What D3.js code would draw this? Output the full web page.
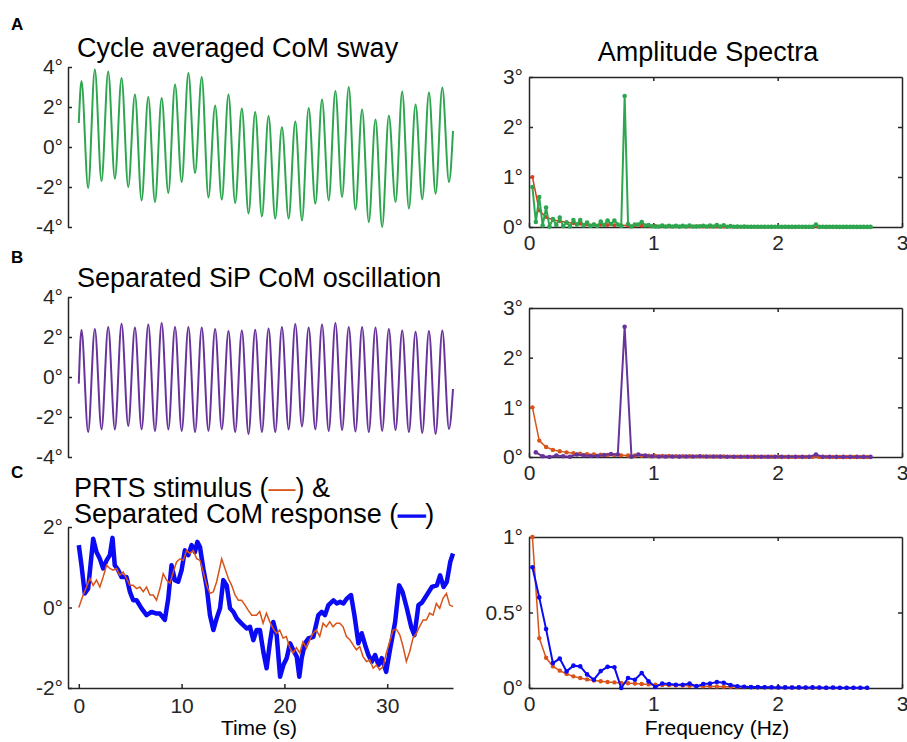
<!DOCTYPE html>
<html lang="en">
<head>
<meta charset="UTF-8">
<script src="https://d3js.org/d3.v7.min.js"></script>
<title>CoM sway and amplitude spectra</title>
<style>
    body { margin: 0; background: #fff; }
    svg text { font-family: "Liberation Sans", Arial, sans-serif; }
</style>
</head>
<body>
<script>

// ---- data ----

// one stimulus cycle (s); spectra points sit on harmonics k / period
var period = 36.4;

// A: cycle averaged CoM sway, value at start, successive peaks / troughs, value at end (deg)
var swayStart = 1.2, swayEnd = 0.8;
var swayPeaks = [3.3, 3.87, 3.78, 3.45, 2.63, 2.5, 2.45, 3.13, 3.7, 3.5, 2.08, 2.63, 1.92, 1.75,
                 1.55, 1.0, 1.28, 1.95, 2.37, 2.8, 3.0, 1.88, 1.37, 1.58, 2.78, 2.13, 2.72, 2.97];
var swayTroughs = [-2.05, -1.7, -1.58, -2.0, -2.67, -2.75, -2.3, -1.75, -1.3, -2.53, -2.63, -2.8, -3.33, -3.47,
                   -3.58, -3.58, -3.67, -2.83, -2.67, -2.5, -3.13, -3.75, -4.0, -2.75, -3.08, -2.62, -2.33, -1.75];
// time of first peak and half cycle of the 0.77 Hz oscillation (s)
var firstPeak = 0.26, halfCycle = 0.65;

// B: separated SiP CoM oscillation
var sipStart = -0.33, sipEnd = -0.6;
var sipPeaks = [2.35, 2.4, 2.5, 2.66, 2.47, 2.62, 2.7, 2.5, 2.5, 2.48, 2.4, 2.3, 2.32, 2.36,
                2.42, 2.5, 2.65, 2.47, 2.62, 2.7, 2.5, 2.5, 2.48, 2.4, 2.33, 2.26, 2.3, 2.33];
var sipTroughs = [-2.75, -2.62, -2.62, -2.45, -2.62, -2.7, -2.62, -2.7, -2.75, -2.7, -2.62, -2.75, -2.85, -2.75,
                  -2.75, -2.62, -2.47, -2.62, -2.7, -2.65, -2.72, -2.75, -2.7, -2.65, -2.75, -2.8, -2.85, -2.6];

// C: PRTS stimulus and separated CoM response, [time (s), deg]
var stimulus = [[0,0],[0.42,0.31],[0.75,0.51],[1.07,0.72],[1.4,0.55],[1.72,0.68],[2.05,0.51],[2.37,0.76],
    [2.7,1.05],[3.02,0.97],[3.34,0.93],[3.67,0.97],[3.99,0.8],[4.32,0.88],[4.64,0.72],[4.97,0.55],[5.29,0.55],
    [5.62,0.47],[5.94,0.51],[6.27,0.39],[6.59,0.51],[6.92,0.31],[7.24,0.31],[7.56,0.18],[7.89,0.47],[8.21,0.84],
    [8.54,0.68],[8.86,0.6],[9.19,0.88],[9.51,1.13],[9.84,1.21],[10.16,1.17],[10.49,1.42],[10.81,1.34],[11.14,1.42],
    [11.46,1.21],[11.79,1.17],[12.11,0.88],[12.44,0.55],[12.76,0.35],[13.09,0.39],[13.41,0.64],[13.9,1.21],
    [14.22,0.97],[14.55,0.72],[14.87,0.55],[15.2,0.31],[15.52,0.18],[15.84,0.18],[16.17,0.06],[16.49,-0.07],
    [16.82,-0.19],[17.28,-0.19],[17.6,-0.1],[17.93,-0.39],[18.25,-0.14],[18.57,-0.35],[18.9,-0.52],[19.22,-0.64],
    [19.54,-0.56],[19.87,-0.76],[20.19,-0.72],[20.52,-1.0],[20.84,-1.13],[21.17,-1.0],[21.49,-1.13],[21.81,-0.85],
    [22.14,-1.01],[22.46,-0.81],[22.79,-0.64],[23.11,-0.56],[23.44,-0.72],[23.76,-0.39],[24.08,-0.48],[24.41,-0.35],
    [24.73,-0.48],[25.06,-0.39],[25.38,-0.39],[25.71,-0.48],[26.03,-0.72],[26.36,-0.8],[26.68,-0.93],[27.0,-1.05],
    [27.33,-0.97],[27.65,-1.22],[27.98,-1.34],[28.3,-1.3],[28.63,-1.51],[28.95,-1.43],[29.27,-1.55],[29.6,-1.47],
    [29.92,-1.13],[30.24,-0.85],[30.57,-0.56],[30.89,-0.54],[31.22,-0.68],[31.54,-0.97],[31.86,-1.34],[32.19,-1.1],
    [32.51,-0.76],[32.84,-0.64],[33.16,-0.47],[33.49,-0.31],[33.81,-0.31],[34.13,-0.14],[34.46,-0.19],[34.78,0.1],
    [35.11,-0.02],[35.43,0.23],[35.76,0.35],[36.08,0.06],[36.4,0.02]];

var response = [[0,1.55],[0.26,1.05],[0.58,0.35],[0.91,0.47],[1.4,1.71],[1.72,1.38],[2.05,1.21],[2.37,0.97],
    [2.7,1.17],[3.02,1.3],[3.28,1.73],[3.5,1.05],[3.83,0.93],[4.15,0.76],[4.64,0.76],[4.97,0.39],[5.29,0.18],
    [5.62,0.18],[6.1,-0.02],[6.59,-0.19],[7.08,-0.11],[7.56,-0.15],[7.89,-0.15],[8.37,-0.31],[8.7,0.22],[9.02,1.05],
    [9.35,0.68],[9.67,0.64],[10.0,0.93],[10.32,1.42],[10.65,1.3],[10.97,1.55],[11.3,1.38],[11.53,1.63],[11.79,1.5],
    [12.11,0.97],[12.44,0.51],[12.76,-0.19],[13.09,-0.56],[13.41,-0.27],[13.74,-0.02],[14.06,0.68],[14.39,0.55],
    [14.71,-0.02],[15.04,-0.11],[15.36,-0.27],[15.84,-0.4],[16.33,-0.52],[16.65,-0.48],[16.98,-0.81],[17.3,-0.56],
    [17.62,-0.56],[17.95,-1.1],[18.27,-1.51],[18.6,-0.85],[18.92,-0.36],[19.25,-0.69],[19.58,-1.72],[19.9,-1.43],
    [20.22,-1.26],[20.55,-0.89],[20.87,-1.06],[21.2,-1.22],[21.45,-1.72],[21.68,-1.26],[22.0,-0.89],[22.33,-0.77],
    [22.81,-0.73],[23.3,-0.19],[23.63,-0.11],[23.95,-0.19],[24.28,0.06],[24.77,0.18],[25.09,0.1],[25.41,0.14],
    [25.74,0.1],[26.06,0.22],[26.48,0.31],[26.81,-0.19],[27.2,-0.89],[27.52,-0.64],[27.85,-0.93],[28.17,-1.18],
    [28.5,-1.35],[28.82,-1.18],[29.15,-1.43],[29.47,-1.26],[29.9,-1.6],[30.29,-1.02],[30.77,-0.36],[31.16,0.55],
    [31.49,0.39],[31.91,-0.02],[32.33,-0.48],[32.65,-0.69],[33.04,0.06],[33.37,0.12],[33.85,0.31],[34.34,0.51],
    [34.83,0.55],[35.15,0.8],[35.48,0.51],[35.8,0.64],[36.13,1.13],[36.4,1.34]];

// amplitude spectra (deg): all harmonics k = 1..100 for the sway,
// odd harmonics for stimulus and response, even harmonics for the SiP part
var swaySpec = [0.80, 0.10, 0.60, 0.03, 0.39, 0.01, 0.16, 0.04, 0.19, 0.02, 0.09, 0.01, 0.14, 0.05, 0.14, 0.03,
    0.09, 0.02, 0.05, 0.02, 0.11, 0.04, 0.13, 0.06, 0.13, 0.05, 0.02, 2.62, 0.06, 0.01, 0.05, 0.05, 0.10, 0.03,
    0.04, 0.015, 0.01, 0.01, 0.03, 0.01, 0.026, 0.01, 0.022, 0.008, 0.022, 0.01, 0.029, 0.01, 0.011, 0.015,
    0.026, 0.01, 0.029, 0.01, 0.04, 0.008, 0.035, 0.006, 0.02, 0.005, 0.011, 0.005, 0.008, 0.005, 0.006, 0.004,
    0.006, 0.004, 0.005, 0.004, 0.005, 0.004, 0.004, 0.003, 0.004, 0.003, 0.003, 0.003, 0.004, 0.003, 0.003,
    0.003, 0.004, 0.05, 0.003, 0.004, 0.002, 0.003, 0.003, 0.003, 0.002, 0.002, 0.002, 0.002, 0.002, 0.002,
    0.002, 0.002, 0.002, 0.002];
var sipSpec = [0.094, 0.015, 0.0, 0.03, 0.015, 0.005, 0.05, 0.03, 0.02, 0.02, 0.04, 0.06, 0.05, 2.62, 0.005,
    0.05, 0.03, 0.015, 0.01, 0.01, 0.01, 0.008, 0.01, 0.01, 0.015, 0.01, 0.01, 0.008, 0.006, 0.005, 0.005, 0.005,
    0.004, 0.004, 0.004, 0.004, 0.003, 0.003, 0.003, 0.003, 0.003, 0.05, 0.003, 0.003, 0.002, 0.002, 0.002,
    0.002, 0.002, 0.002];
var stimSpec = [1.0, 0.33, 0.20, 0.143, 0.115, 0.093, 0.077, 0.066, 0.057, 0.05, 0.045, 0.04, 0.037, 0.033,
    0.031, 0.029, 0.026, 0.024, 0.022, 0.02, 0.019, 0.017, 0.016, 0.015, 0.013, 0.012, 0.011, 0.01, 0.009,
    0.008, 0.007, 0.006, 0.006, 0.005, 0.005, 0.004, 0.004, 0.003, 0.003, 0.003, 0.002, 0.002, 0.002, 0.002,
    0.001, 0.001, 0.001, 0.001, 0.001, 0.001];
var respSpec = [0.80, 0.60, 0.39, 0.165, 0.195, 0.11, 0.148, 0.143, 0.09, 0.055, 0.112, 0.14, 0.137, 0.0,
    0.066, 0.055, 0.099, 0.044, 0.007, 0.03, 0.026, 0.022, 0.022, 0.029, 0.011, 0.026, 0.029, 0.04, 0.035,
    0.02, 0.011, 0.008, 0.006, 0.006, 0.005, 0.005, 0.004, 0.004, 0.003, 0.004, 0.003, 0.004, 0.003, 0.002,
    0.003, 0.002, 0.002, 0.002, 0.002, 0.002];

var timeTicks = [0, 10, 20, 30];
var freqTicks = [0, 1, 2, 3];

// ---- colours ----
var green = "#2ea64f", purple = "#68349b", orange = "#d95319", blue = "#0a0af5", axisCol = "#262626";

var width = 907, height = 742;
var svg = d3.select("body").append("svg")
    .attr("width", width)
    .attr("height", height);

var xTime = d3.scaleLinear().domain([-1.05, 36.4]).range([68, 453]);
var xFreq = d3.scaleLinear().domain([0, 3]).range([529, 902]);

function deg(d) { return d + "°"; }

function styleAxis(g, size) {
    g.attr("font-size", size || 21)
     .attr("font-family", '"Liberation Sans", Arial, sans-serif');
    g.selectAll("path, line").attr("stroke", axisCol).attr("stroke-width", 1.5);
    g.selectAll("text").attr("fill", axisCol);
}

// extrema list -> points for the oscillation traces
function extremaPoints(start, peaks, troughs, end) {
    var pts = [[0, start]];
    for (var i = 0; i < peaks.length; i++) {
        pts.push([firstPeak + 2 * i * halfCycle, peaks[i]]);
        pts.push([firstPeak + (2 * i + 1) * halfCycle, troughs[i]]);
    }
    pts.push([period, end]);
    return pts;
}

function timePanel(y, ticks, pts, color) {
    var g = svg.append("g")
        .attr("transform", "translate(" + xTime.range()[0] + ",0)")
        .call(d3.axisLeft(y).tickValues(ticks).tickFormat(deg).tickSize(-4).tickSizeOuter(0).tickPadding(5));
    styleAxis(g);
    svg.append("path")
        .datum(pts)
        .attr("fill", "none")
        .attr("stroke", color)
        .attr("stroke-width", 2)
        .attr("d", d3.line().curve(d3.curveMonotoneX)
            .x(function(d) { return xTime(d[0]); })
            .y(function(d) { return y(d[1]); }));
}

function spectrumBox(y, yTicks) {
    var top = y.range()[1], bottom = y.range()[0];
    var inner = yTicks.slice(1, -1);
    var b = svg.append("g").attr("transform", "translate(0," + bottom + ")")
        .call(d3.axisBottom(xFreq).tickValues(freqTicks).tickFormat(d3.format("d"))
            .tickSize(-4).tickSizeOuter(0).tickPadding(8));
    var t = svg.append("g").attr("transform", "translate(0," + top + ")")
        .call(d3.axisTop(xFreq).tickValues([1, 2]).tickFormat("").tickSize(-4).tickSizeOuter(0));
    var l = svg.append("g").attr("transform", "translate(" + xFreq.range()[0] + ",0)")
        .call(d3.axisLeft(y).tickValues(yTicks).tickFormat(deg).tickSize(-4).tickSizeOuter(0).tickPadding(6));
    var r = svg.append("g").attr("transform", "translate(" + xFreq.range()[1] + ",0)")
        .call(d3.axisRight(y).tickValues(inner).tickFormat("").tickSize(-4).tickSizeOuter(0));
    [b, t, l, r].forEach(function(g) { styleAxis(g); });
}

function spectrum(y, harmonics, vals, color, lw, rad) {
    var pts = vals.map(function(v, i) { return [harmonics[i] / period, v]; });
    svg.append("path")
        .datum(pts)
        .attr("fill", "none")
        .attr("stroke", color)
        .attr("stroke-width", lw)
        .attr("d", d3.line()
            .x(function(d) { return xFreq(d[0]); })
            .y(function(d) { return y(d[1]); }));
    svg.append("g").selectAll("circle")
        .data(pts)
        .enter().append("circle")
        .attr("cx", function(d) { return xFreq(d[0]); })
        .attr("cy", function(d) { return y(d[1]); })
        .attr("r", rad)
        .attr("fill", color);
}

var allK = d3.range(1, 101);
var oddK = d3.range(1, 100, 2);
var evenK = d3.range(2, 101, 2);

// ---- row A ----
var yA = d3.scaleLinear().domain([-4, 4]).range([227, 67]);
timePanel(yA, [-4, -2, 0, 2, 4], extremaPoints(swayStart, swayPeaks, swayTroughs, swayEnd), green);

var ySA = d3.scaleLinear().domain([0, 3]).range([227, 77]);
spectrumBox(ySA, [0, 1, 2, 3]);
spectrum(ySA, oddK, stimSpec, "#e23a1c", 1.5, 2);
spectrum(ySA, allK, swaySpec, green, 2, 2.3);

// ---- row B ----
var yB = d3.scaleLinear().domain([-4, 4]).range([457, 297]);
timePanel(yB, [-4, -2, 0, 2, 4], extremaPoints(sipStart, sipPeaks, sipTroughs, sipEnd), purple);

var ySB = d3.scaleLinear().domain([0, 3]).range([457, 308]);
spectrumBox(ySB, [0, 1, 2, 3]);
spectrum(ySB, oddK, stimSpec, orange, 1.5, 2.2);
spectrum(ySB, evenK, sipSpec, purple, 2, 2.3);

// ---- row C ----
var yC = d3.scaleLinear().domain([-2, 2]).range([688, 527]);
var gy = svg.append("g")
    .attr("transform", "translate(" + xTime.range()[0] + ",0)")
    .call(d3.axisLeft(yC).tickValues([-2, 0, 2]).tickFormat(deg).tickSize(-4).tickSizeOuter(0).tickPadding(5));
styleAxis(gy);
var gx = svg.append("g")
    .attr("transform", "translate(0,688)")
    .call(d3.axisBottom(xTime).tickValues(timeTicks).tickFormat(d3.format("d"))
        .tickSize(-4).tickSizeOuter(0).tickPadding(10));
styleAxis(gx);

var tline = d3.line()
    .x(function(d) { return xTime(d[0]); })
    .y(function(d) { return yC(d[1]); });
svg.append("path").datum(response)
    .attr("fill", "none").attr("stroke", blue).attr("stroke-width", 4.5)
    .attr("stroke-linejoin", "round").attr("d", tline);
svg.append("path").datum(stimulus)
    .attr("fill", "none").attr("stroke", orange).attr("stroke-width", 1.5)
    .attr("d", tline);

var ySC = d3.scaleLinear().domain([0, 1]).range([688, 537]);
spectrumBox(ySC, [0, 0.5, 1]);
spectrum(ySC, oddK, stimSpec, orange, 1.5, 2.2);
spectrum(ySC, oddK, respSpec, blue, 2, 2.3);

// ---- titles and labels ----
function label(x, y, txt, size, anchor, weight) {
    return svg.append("text")
        .attr("x", x).attr("y", y)
        .attr("font-size", size)
        .attr("text-anchor", anchor || "start")
        .attr("font-weight", weight || "normal")
        .attr("fill", "#000")
        .text(txt);
}

label(11, 30, "A", 17, "start", "bold");
label(11, 263, "B", 17, "start", "bold");
label(11, 478, "C", 17, "start", "bold");

label(77, 57, "Cycle averaged CoM sway", 27);
label(708, 61, "Amplitude Spectra", 27, "middle");
label(77, 287, "Separated SiP CoM oscillation", 27);

var c1 = label(74, 497, "", 27);
c1.append("tspan").text("PRTS stimulus (");
c1.append("tspan").attr("fill", orange).text("—");
c1.append("tspan").text(") &");
var c2 = label(74, 523, "", 27);
c2.append("tspan").text("Separated CoM response (");
c2.append("tspan").attr("fill", blue).attr("stroke", blue).attr("stroke-width", 1.5).text("—");
c2.append("tspan").text(")");

label(259, 735, "Time (s)", 21, "middle");
label(717, 735, "Frequency (Hz)", 21, "middle");

</script>
</body>
</html>
